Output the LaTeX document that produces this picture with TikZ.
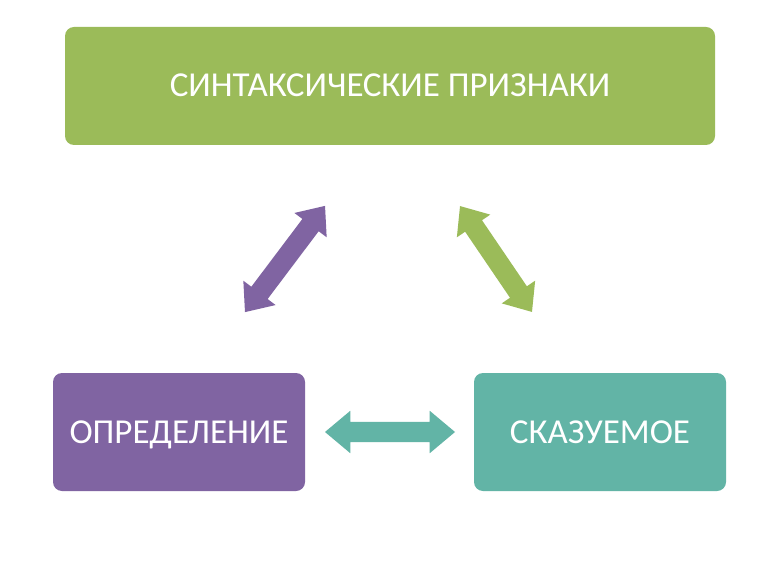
\documentclass[tikz,border=0pt]{standalone}
\usepackage{fontspec}
\setmainfont{Carlito}
\usetikzlibrary{shapes.arrows}
\definecolor{cgreen}{HTML}{9BBB59}
\definecolor{cpurple}{HTML}{8064A2}
\definecolor{cteal}{HTML}{62B4A6}
\tikzset{
  box/.style={rounded corners=9pt,text=white,font=\fontsize{35}{38}\selectfont,inner sep=0pt,text height=22pt,text depth=0pt},
  darrow/.style={double arrow,draw=none,inner xsep=0pt,inner ysep=10pt,text height=0pt,text depth=0pt,double arrow head extend=10pt,double arrow tip angle=80}
}
\begin{document}
\begin{tikzpicture}[x=1pt,y=-1pt]
\useasboundingbox (0,0) rectangle (770,577);
\fill[white] (0,0) rectangle (770,577);
\node[box,fill=cgreen,minimum width=650pt,minimum height=118pt] (top) at (390,86) {СИНТАКСИЧЕСКИЕ ПРИЗНАКИ};
\node[box,fill=cpurple,minimum width=252pt,minimum height=118pt] (left) at (179,432) {ОПРЕДЕЛЕНИЕ};
\node[box,fill=cteal,minimum width=252pt,minimum height=118pt] (right) at (600,432) {СКАЗУЕМОЕ};
\node[darrow,fill=cpurple,minimum height=133pt,rotate=53] (a1) at (285,259) {};
\node[darrow,fill=cgreen,minimum height=128pt,rotate=-55.8] (a2) at (496,259) {};
\node[darrow,fill=cteal,minimum height=130pt,double arrow head extend=11pt] (a3) at (390,432) {};
\end{tikzpicture}
\end{document}
